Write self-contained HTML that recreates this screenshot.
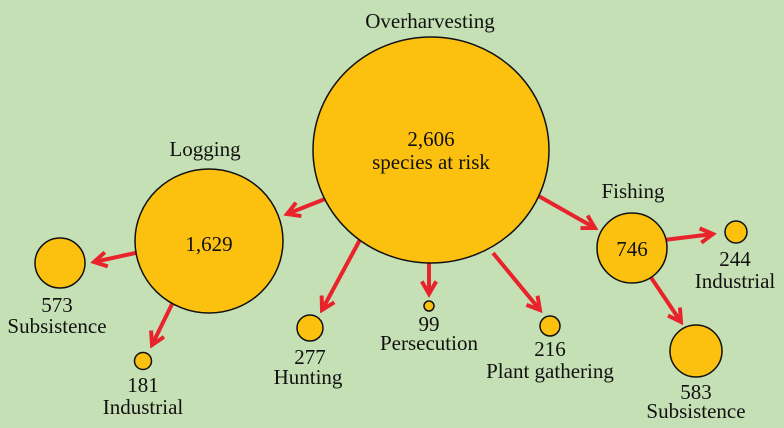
<!DOCTYPE html>
<html><head><style>body{margin:0}svg{display:block}text{font-family:"Liberation Serif",serif;font-size:21px;fill:#111;text-anchor:middle}</style></head>
<body>
<svg width="784" height="428" viewBox="0 0 784 428">
<defs><marker id="a" viewBox="0 0 10 10" refX="8" refY="5" markerWidth="4.5" markerHeight="4.5" orient="auto" markerUnits="strokeWidth"><path d="M1,1 L8,5 L1,9" fill="none" stroke="#e8232b" stroke-width="2.2"/></marker></defs>
<rect width="784" height="428" fill="#c5e0b4"/>
<g stroke="#e8232b" stroke-width="4" marker-end="url(#a)">
<line x1="330" y1="197" x2="287" y2="214"/>
<line x1="362" y1="236" x2="322" y2="310"/>
<line x1="429" y1="258" x2="429" y2="294"/>
<line x1="493" y1="253" x2="540" y2="310"/>
<line x1="535" y1="194" x2="595" y2="228"/>
<line x1="140" y1="252" x2="94" y2="262"/>
<line x1="174" y1="300" x2="152" y2="345"/>
<line x1="664" y1="240" x2="713" y2="234"/>
<line x1="650" y1="276" x2="681" y2="322"/>
</g>
<g fill="#fcc10f" stroke="#111" stroke-width="1.5">
<ellipse cx="431" cy="150" rx="118" ry="113"/>
<ellipse cx="209" cy="241" rx="74" ry="72"/>
<circle cx="632" cy="248" r="35"/>
<circle cx="60" cy="263" r="25"/>
<circle cx="143" cy="361" r="8.5"/>
<circle cx="310" cy="328" r="13"/>
<circle cx="429" cy="306" r="5"/>
<circle cx="550" cy="326" r="10"/>
<circle cx="736" cy="232" r="11"/>
<circle cx="696" cy="351" r="26"/>
</g>
<text x="430" y="28">Overharvesting</text>
<text x="431" y="146">2,606</text>
<text x="431" y="169">species at risk</text>
<text x="205" y="156">Logging</text>
<text x="209" y="251">1,629</text>
<text x="633" y="198">Fishing</text>
<text x="632" y="256">746</text>
<text x="57" y="312">573</text>
<text x="57" y="333">Subsistence</text>
<text x="143" y="392">181</text>
<text x="143" y="414">Industrial</text>
<text x="310" y="364">277</text>
<text x="308" y="384">Hunting</text>
<text x="429" y="331">99</text>
<text x="429" y="350">Persecution</text>
<text x="550" y="356">216</text>
<text x="550" y="378">Plant gathering</text>
<text x="735" y="266">244</text>
<text x="735" y="288">Industrial</text>
<text x="696" y="399">583</text>
<text x="696" y="418">Subsistence</text>
</svg>
</body></html>
